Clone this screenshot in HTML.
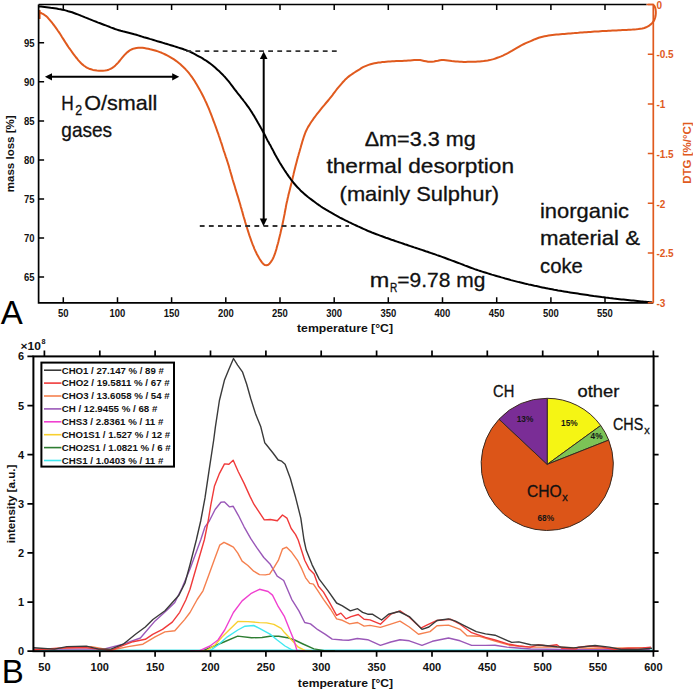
<!DOCTYPE html>
<html><head><meta charset="utf-8"><style>
html,body{margin:0;padding:0;background:#fff;}
body{width:693px;height:691px;overflow:hidden;font-family:"Liberation Sans",sans-serif;}
svg{display:block;} svg text{font-family:"Liberation Sans",sans-serif;}
</style></head><body>
<svg width="693" height="691" viewBox="0 0 693 691"><path d="M39.6,12.5 L41.6,13.3 L43.3,14.1 L44.9,15.2 L46.5,16.4 L47.9,17.8 L49.2,19.3 L50.5,20.8 L51.8,22.4 L53.0,24.0 L54.3,25.6 L55.4,27.2 L56.6,28.8 L57.7,30.5 L58.9,32.1 L60.0,33.8 L61.1,35.5 L62.1,37.2 L63.2,38.9 L64.3,40.6 L65.3,42.2 L66.4,43.9 L67.5,45.6 L68.6,47.3 L69.8,48.9 L71.0,50.5 L72.1,52.2 L73.3,53.8 L74.5,55.4 L75.7,57.0 L77.0,58.5 L78.2,60.1 L79.6,61.6 L80.9,63.0 L82.4,64.4 L84.0,65.7 L85.6,66.8 L87.3,67.8 L89.1,68.7 L91.0,69.3 L92.9,69.9 L94.9,70.2 L96.9,70.5 L98.9,70.7 L100.9,70.7 L102.9,70.7 L104.9,70.5 L106.8,70.2 L108.7,69.7 L110.6,68.9 L112.3,67.9 L113.9,66.7 L115.4,65.4 L116.8,64.0 L118.2,62.6 L119.5,61.0 L120.7,59.5 L122.0,57.9 L123.3,56.4 L124.6,54.9 L126.0,53.5 L127.5,52.1 L129.1,50.9 L130.7,49.8 L132.5,49.0 L134.4,48.4 L136.4,48.0 L138.4,47.8 L140.4,47.8 L142.4,47.8 L144.3,48.1 L146.3,48.4 L148.3,48.8 L150.2,49.3 L152.2,49.7 L154.1,50.2 L156.0,50.8 L157.9,51.4 L159.8,52.1 L161.7,52.8 L163.5,53.6 L165.3,54.5 L167.1,55.4 L168.9,56.3 L170.6,57.3 L172.3,58.3 L174.0,59.4 L175.7,60.6 L177.3,61.8 L178.8,63.0 L180.4,64.3 L181.9,65.7 L183.3,67.0 L184.8,68.4 L186.1,69.9 L187.5,71.4 L188.8,72.9 L190.0,74.5 L191.2,76.1 L192.4,77.7 L193.5,79.4 L194.6,81.0 L195.6,82.7 L196.7,84.5 L197.7,86.2 L198.7,87.9 L199.7,89.7 L200.6,91.4 L201.6,93.2 L202.5,95.0 L203.4,96.8 L204.3,98.6 L205.1,100.4 L206.0,102.2 L206.8,104.0 L207.6,105.9 L208.4,107.7 L209.2,109.5 L209.9,111.4 L210.7,113.3 L211.4,115.1 L212.1,117.0 L212.8,118.9 L213.5,120.8 L214.2,122.6 L214.9,124.5 L215.6,126.4 L216.3,128.3 L216.9,130.2 L217.6,132.1 L218.3,133.9 L218.9,135.8 L219.6,137.7 L220.2,139.6 L220.8,141.5 L221.5,143.4 L222.1,145.3 L222.7,147.3 L223.3,149.2 L223.9,151.1 L224.6,153.0 L225.2,154.9 L225.8,156.8 L226.5,158.7 L227.1,160.6 L227.7,162.5 L228.3,164.4 L228.9,166.3 L229.4,168.2 L230.0,170.2 L230.5,172.1 L231.1,174.0 L231.6,175.9 L232.2,177.9 L232.7,179.8 L233.3,181.7 L233.9,183.6 L234.5,185.5 L235.1,187.5 L235.6,189.4 L236.2,191.3 L236.8,193.2 L237.4,195.1 L238.0,197.0 L238.6,199.0 L239.1,200.9 L239.7,202.8 L240.3,204.7 L240.8,206.7 L241.4,208.6 L241.9,210.5 L242.5,212.4 L243.0,214.4 L243.5,216.3 L244.1,218.2 L244.7,220.1 L245.2,222.1 L245.8,224.0 L246.4,225.9 L247.0,227.8 L247.6,229.7 L248.2,231.6 L248.8,233.5 L249.4,235.4 L250.1,237.3 L250.7,239.2 L251.4,241.1 L252.1,243.0 L252.8,244.9 L253.6,246.7 L254.3,248.6 L255.1,250.4 L256.0,252.2 L256.8,254.0 L257.8,255.8 L258.8,257.6 L259.8,259.3 L260.9,260.9 L262.1,262.6 L263.4,264.0 L264.9,265.1 L266.6,265.3 L268.3,264.7 L269.7,263.5 L270.9,261.9 L272.0,260.2 L273.0,258.5 L273.8,256.6 L274.5,254.8 L275.2,252.9 L275.8,251.0 L276.4,249.1 L276.9,247.1 L277.4,245.2 L278.0,243.3 L278.5,241.3 L278.9,239.4 L279.4,237.4 L279.9,235.5 L280.4,233.5 L280.8,231.6 L281.3,229.6 L281.7,227.7 L282.2,225.7 L282.6,223.8 L283.0,221.8 L283.4,219.9 L283.8,217.9 L284.2,215.9 L284.6,214.0 L284.9,212.0 L285.3,210.0 L285.7,208.0 L286.0,206.1 L286.4,204.1 L286.8,202.2 L287.3,200.2 L287.7,198.2 L288.2,196.3 L288.6,194.3 L289.1,192.4 L289.6,190.5 L290.1,188.5 L290.6,186.6 L291.1,184.6 L291.6,182.7 L292.0,180.7 L292.5,178.8 L292.9,176.8 L293.4,174.9 L293.8,172.9 L294.3,171.0 L294.8,169.0 L295.3,167.1 L295.8,165.1 L296.3,163.2 L296.8,161.3 L297.3,159.3 L297.8,157.4 L298.4,155.5 L298.9,153.5 L299.5,151.6 L300.0,149.7 L300.6,147.8 L301.1,145.8 L301.7,143.9 L302.2,142.0 L302.8,140.1 L303.4,138.2 L304.0,136.3 L304.7,134.4 L305.4,132.5 L306.2,130.7 L307.1,128.9 L308.0,127.1 L309.1,125.4 L310.1,123.7 L311.2,122.0 L312.4,120.4 L313.5,118.7 L314.7,117.1 L315.9,115.5 L317.1,113.9 L318.4,112.3 L319.6,110.8 L320.9,109.2 L322.1,107.6 L323.4,106.1 L324.7,104.6 L326.0,103.0 L327.3,101.5 L328.6,100.0 L329.8,98.4 L331.1,96.8 L332.3,95.3 L333.5,93.7 L334.7,92.1 L335.9,90.5 L337.1,88.9 L338.4,87.3 L339.7,85.8 L341.0,84.3 L342.3,82.8 L343.7,81.3 L345.0,79.8 L346.5,78.4 L348.0,77.1 L349.5,75.9 L351.2,74.7 L352.8,73.6 L354.5,72.5 L356.2,71.4 L357.9,70.3 L359.6,69.3 L361.3,68.2 L363.0,67.2 L364.8,66.4 L366.7,65.6 L368.5,64.9 L370.5,64.3 L372.4,63.7 L374.3,63.3 L376.3,62.9 L378.3,62.6 L380.3,62.4 L382.3,62.1 L384.2,61.9 L386.2,61.7 L388.2,61.5 L390.2,61.4 L392.2,61.3 L394.2,61.2 L396.2,61.1 L398.2,61.1 L400.2,61.0 L402.2,60.9 L404.2,60.8 L406.2,60.7 L408.2,60.5 L410.2,60.4 L412.2,60.2 L414.2,60.0 L416.2,59.9 L418.2,59.9 L420.2,60.1 L422.2,60.5 L424.1,60.9 L426.1,61.3 L428.1,61.7 L430.0,61.8 L432.0,61.8 L434.0,61.5 L436.0,61.1 L437.9,60.7 L439.9,60.2 L441.8,60.0 L443.8,60.0 L445.8,60.2 L447.8,60.5 L449.8,60.8 L451.7,61.1 L453.7,61.3 L455.7,61.5 L457.7,61.6 L459.7,61.7 L461.7,61.8 L463.7,61.9 L465.7,61.9 L467.7,61.8 L469.7,61.8 L471.7,61.8 L473.7,61.7 L475.7,61.7 L477.7,61.6 L479.7,61.5 L481.7,61.3 L483.7,61.1 L485.7,60.8 L487.7,60.5 L489.7,60.1 L491.6,59.6 L493.5,59.1 L495.4,58.5 L497.3,57.8 L499.2,57.1 L501.1,56.4 L502.9,55.6 L504.7,54.7 L506.5,53.8 L508.3,52.9 L510.0,51.9 L511.8,50.9 L513.5,49.9 L515.2,48.9 L516.9,47.9 L518.7,46.8 L520.4,45.8 L522.2,44.9 L524.0,44.0 L525.8,43.2 L527.6,42.4 L529.5,41.6 L531.3,40.8 L533.1,40.0 L535.0,39.2 L536.9,38.5 L538.7,37.8 L540.6,37.2 L542.6,36.7 L544.5,36.3 L546.5,35.9 L548.5,35.6 L550.5,35.3 L552.4,35.0 L554.4,34.8 L556.4,34.6 L558.4,34.4 L560.4,34.2 L562.4,34.0 L564.4,33.9 L566.4,33.7 L568.4,33.5 L570.4,33.4 L572.4,33.2 L574.4,33.1 L576.4,32.9 L578.4,32.8 L580.4,32.6 L582.4,32.5 L584.4,32.3 L586.4,32.2 L588.4,32.0 L590.4,31.9 L592.4,31.7 L594.4,31.6 L596.4,31.5 L598.4,31.4 L600.4,31.2 L602.4,31.1 L604.4,31.0 L606.4,30.9 L608.4,30.8 L610.4,30.7 L612.4,30.6 L614.4,30.5 L616.4,30.4 L618.4,30.3 L620.4,30.2 L622.4,30.1 L624.4,30.0 L626.4,29.9 L628.4,29.8 L630.4,29.7 L632.4,29.6 L634.4,29.4 L636.4,29.3 L638.4,29.1 L640.4,28.8 L642.3,28.5 L644.3,28.0 L646.1,27.3 L647.9,26.4 L649.6,25.3 L651.1,24.1 L652.5,22.7 L653.7,21.1 L654.6,19.3 L655.2,17.5 L655.6,15.5 L655.8,13.5 L655.8,11.5 L655.6,9.5 L655.2,7.7 L654.5,6.2 L653.8,5.0" fill="none" stroke="#e05a1e" stroke-width="2" stroke-linejoin="round"/>
<path d="M39.5,10 L39.5,19" stroke="#e05a1e" stroke-width="2.2"/>
<path d="M38.6,6.4 L41.0,6.6 L42.7,6.8 L44.6,7.0 L46.6,7.2 L48.6,7.4 L50.6,7.7 L52.5,7.9 L54.5,8.2 L56.5,8.5 L58.5,8.9 L60.5,9.2 L62.4,9.7 L64.4,10.1 L66.3,10.6 L68.2,11.2 L70.1,11.7 L72.1,12.3 L73.9,13.0 L75.8,13.7 L77.7,14.4 L79.6,15.1 L81.4,15.9 L83.3,16.6 L85.1,17.4 L87.0,18.1 L88.9,18.9 L90.7,19.6 L92.6,20.4 L94.4,21.1 L96.3,21.8 L98.2,22.6 L100.1,23.3 L101.9,24.0 L103.8,24.7 L105.7,25.4 L107.6,26.1 L109.4,26.8 L111.3,27.6 L113.2,28.3 L115.0,29.0 L116.9,29.6 L118.8,30.2 L120.8,30.8 L122.7,31.3 L124.7,31.7 L126.6,32.2 L128.6,32.7 L130.5,33.2 L132.4,33.7 L134.3,34.3 L136.3,34.8 L138.2,35.4 L140.1,36.0 L142.0,36.6 L143.9,37.2 L145.9,37.7 L147.8,38.3 L149.7,38.9 L151.6,39.4 L153.5,40.0 L155.5,40.6 L157.4,41.2 L159.3,41.7 L161.2,42.3 L163.1,42.9 L165.1,43.5 L167.0,44.0 L168.9,44.6 L170.8,45.2 L172.7,45.8 L174.6,46.4 L176.6,47.0 L178.5,47.6 L180.4,48.2 L182.3,48.8 L184.2,49.5 L186.1,50.1 L187.9,50.9 L189.8,51.7 L191.6,52.5 L193.4,53.4 L195.2,54.3 L196.9,55.3 L198.7,56.3 L200.4,57.2 L202.2,58.2 L203.9,59.3 L205.6,60.3 L207.2,61.4 L208.9,62.6 L210.5,63.8 L212.1,65.0 L213.6,66.3 L215.1,67.6 L216.6,68.9 L218.1,70.3 L219.6,71.6 L221.0,73.0 L222.5,74.4 L223.8,75.9 L225.2,77.3 L226.5,78.8 L227.8,80.4 L229.1,81.9 L230.3,83.5 L231.5,85.1 L232.7,86.7 L233.9,88.3 L235.1,89.9 L236.4,91.5 L237.6,93.1 L238.8,94.6 L240.1,96.2 L241.3,97.8 L242.6,99.4 L243.8,101.0 L245.0,102.5 L246.2,104.2 L247.4,105.8 L248.6,107.4 L249.7,109.0 L250.8,110.7 L251.9,112.4 L252.9,114.1 L254.0,115.8 L255.0,117.6 L256.0,119.3 L257.0,121.0 L258.0,122.8 L259.0,124.5 L260.0,126.2 L261.0,128.0 L262.0,129.7 L262.9,131.5 L263.9,133.2 L264.8,135.0 L265.7,136.8 L266.6,138.6 L267.5,140.4 L268.5,142.1 L269.5,143.9 L270.5,145.6 L271.4,147.4 L272.4,149.2 L273.3,150.9 L274.2,152.7 L275.1,154.5 L276.1,156.2 L277.1,158.0 L278.1,159.7 L279.1,161.5 L280.1,163.2 L281.2,164.9 L282.2,166.6 L283.3,168.3 L284.4,170.0 L285.5,171.6 L286.6,173.3 L287.7,174.9 L288.9,176.6 L290.1,178.2 L291.2,179.8 L292.5,181.4 L293.7,183.0 L295.0,184.5 L296.3,186.0 L297.7,187.5 L299.1,188.9 L300.5,190.4 L301.9,191.7 L303.4,193.1 L304.9,194.4 L306.5,195.7 L308.0,197.0 L309.6,198.2 L311.2,199.4 L312.8,200.6 L314.4,201.8 L316.0,203.0 L317.6,204.2 L319.3,205.3 L320.9,206.5 L322.6,207.6 L324.3,208.6 L326.0,209.7 L327.7,210.7 L329.4,211.7 L331.2,212.7 L332.9,213.7 L334.6,214.7 L336.4,215.7 L338.2,216.7 L339.9,217.6 L341.7,218.5 L343.5,219.4 L345.3,220.3 L347.1,221.2 L348.9,222.1 L350.7,222.9 L352.5,223.8 L354.3,224.7 L356.1,225.5 L358.0,226.4 L359.8,227.2 L361.6,228.0 L363.4,228.8 L365.3,229.6 L367.1,230.5 L368.9,231.3 L370.8,232.0 L372.6,232.8 L374.5,233.5 L376.4,234.2 L378.3,234.9 L380.1,235.6 L382.0,236.3 L383.9,237.0 L385.8,237.7 L387.7,238.3 L389.6,239.0 L391.5,239.7 L393.4,240.3 L395.2,241.0 L397.1,241.6 L399.0,242.3 L400.9,242.9 L402.8,243.5 L404.7,244.2 L406.6,244.8 L408.5,245.5 L410.4,246.1 L412.3,246.7 L414.2,247.4 L416.1,248.0 L418.0,248.6 L419.9,249.3 L421.8,249.9 L423.7,250.5 L425.6,251.2 L427.5,251.8 L429.4,252.5 L431.3,253.1 L433.2,253.8 L435.1,254.4 L437.0,255.1 L438.9,255.7 L440.8,256.4 L442.7,257.1 L444.6,257.8 L446.4,258.5 L448.3,259.2 L450.2,259.9 L452.1,260.6 L454.0,261.3 L455.8,262.0 L457.7,262.7 L459.6,263.4 L461.5,264.1 L463.3,264.8 L465.2,265.6 L467.1,266.3 L468.9,267.0 L470.8,267.7 L472.7,268.4 L474.6,269.1 L476.5,269.7 L478.4,270.4 L480.3,271.0 L482.2,271.6 L484.1,272.2 L486.0,272.8 L487.9,273.4 L489.8,274.0 L491.8,274.6 L493.7,275.1 L495.6,275.7 L497.5,276.3 L499.4,276.8 L501.4,277.4 L503.3,277.9 L505.2,278.5 L507.2,279.0 L509.1,279.5 L511.0,280.1 L513.0,280.6 L514.9,281.1 L516.8,281.6 L518.8,282.1 L520.7,282.5 L522.7,283.0 L524.6,283.5 L526.6,283.9 L528.5,284.4 L530.5,284.8 L532.5,285.2 L534.4,285.7 L536.4,286.1 L538.3,286.5 L540.3,287.0 L542.2,287.4 L544.2,287.8 L546.2,288.2 L548.1,288.6 L550.1,288.9 L552.1,289.3 L554.1,289.7 L556.0,290.0 L558.0,290.4 L560.0,290.7 L561.9,291.1 L563.9,291.4 L565.9,291.7 L567.9,292.1 L569.9,292.4 L571.8,292.7 L573.8,293.0 L575.8,293.3 L577.8,293.6 L579.8,293.9 L581.7,294.2 L583.7,294.5 L585.7,294.8 L587.7,295.1 L589.7,295.4 L591.7,295.7 L593.6,296.0 L595.6,296.2 L597.6,296.5 L599.6,296.8 L601.6,297.1 L603.6,297.3 L605.6,297.6 L607.5,297.8 L609.5,298.1 L611.5,298.3 L613.5,298.6 L615.5,298.8 L617.5,299.0 L619.5,299.2 L621.5,299.4 L623.5,299.6 L625.5,299.8 L627.5,300.0 L629.5,300.2 L631.4,300.4 L633.4,300.6 L635.4,300.8 L637.4,301.0 L639.4,301.2 L641.4,301.4 L643.4,301.6 L645.4,301.7 L647.4,301.9 L649.2,302.1 L650.7,302.2 L652.4,302.4" fill="none" stroke="#000" stroke-width="2" stroke-linejoin="round"/>
<path d="M186.3,51.1 H337.5" stroke="#333" stroke-width="1.9" stroke-dasharray="4.8,4.3"/>
<path d="M199.8,226 H349" stroke="#333" stroke-width="1.9" stroke-dasharray="4.8,4.3"/>
<path d="M263.7,57 V220" stroke="#000" stroke-width="2"/>
<path d="M263.7,51.4 L259.9,59 L267.5,59 Z" fill="#000"/>
<path d="M263.5,226.2 L259.8,218.6 L267.2,218.6 Z" fill="#000"/>
<path d="M50,76.8 H174" stroke="#000" stroke-width="2"/>
<path d="M44.9,76.8 L52,73.2 L52,80.4 Z" fill="#000"/>
<path d="M179.2,76.8 L172.2,73.2 L172.2,80.4 Z" fill="#000"/>
<path d="M38.6,4.5 V302.8 H653.3" fill="none" stroke="#000" stroke-width="1.7"/>
<path d="M38.6,4.5 H646.6" fill="none" stroke="#000" stroke-width="1.7"/>
<path d="M646.6,4.5 H653.3 V302.8" fill="none" stroke="#e05a1e" stroke-width="1.7"/>
<path d="M63.3,302.8 v-5.5 M63.3,4.5 v5.5 M117.5,302.8 v-5.5 M117.5,4.5 v5.5 M171.6,302.8 v-5.5 M171.6,4.5 v5.5 M225.8,302.8 v-5.5 M225.8,4.5 v5.5 M280,302.8 v-5.5 M280,4.5 v5.5 M334.2,302.8 v-5.5 M334.2,4.5 v5.5 M388.3,302.8 v-5.5 M388.3,4.5 v5.5 M442.5,302.8 v-5.5 M442.5,4.5 v5.5 M496.7,302.8 v-5.5 M496.7,4.5 v5.5 M550.9,302.8 v-5.5 M550.9,4.5 v5.5 M605,302.8 v-5.5 M605,4.5 v5.5 M38.6,277 h5.5 M38.6,237.9 h5.5 M38.6,198.9 h5.5 M38.6,159.9 h5.5 M38.6,120.9 h5.5 M38.6,81.8 h5.5 M38.6,42.8 h5.5 " stroke="#000" stroke-width="1.5"/>
<path d="M653.3,4.5 h-5.5 M653.3,54.2 h-5.5 M653.3,103.9 h-5.5 M653.3,153.6 h-5.5 M653.3,203.3 h-5.5 M653.3,253 h-5.5 M653.3,302.7 h-5.5 " stroke="#e05a1e" stroke-width="1.5"/>
<g font-family="Liberation Sans, sans-serif" font-weight="bold" font-size="10.3" fill="#111" text-anchor="middle"><text x="63.3" y="317.1" textLength="10.6" lengthAdjust="spacingAndGlyphs">50</text><text x="117.5" y="317.1" textLength="15.8" lengthAdjust="spacingAndGlyphs">100</text><text x="171.6" y="317.1" textLength="15.8" lengthAdjust="spacingAndGlyphs">150</text><text x="225.8" y="317.1" textLength="15.8" lengthAdjust="spacingAndGlyphs">200</text><text x="280" y="317.1" textLength="15.8" lengthAdjust="spacingAndGlyphs">250</text><text x="334.2" y="317.1" textLength="15.8" lengthAdjust="spacingAndGlyphs">300</text><text x="388.3" y="317.1" textLength="15.8" lengthAdjust="spacingAndGlyphs">350</text><text x="442.5" y="317.1" textLength="15.8" lengthAdjust="spacingAndGlyphs">400</text><text x="496.7" y="317.1" textLength="15.8" lengthAdjust="spacingAndGlyphs">450</text><text x="550.9" y="317.1" textLength="15.8" lengthAdjust="spacingAndGlyphs">500</text><text x="605" y="317.1" textLength="15.8" lengthAdjust="spacingAndGlyphs">550</text></g>
<g font-family="Liberation Sans, sans-serif" font-weight="bold" font-size="10.3" fill="#111" text-anchor="end"><text x="34.6" y="280.7" textLength="10.6" lengthAdjust="spacingAndGlyphs">65</text><text x="34.6" y="241.6" textLength="10.6" lengthAdjust="spacingAndGlyphs">70</text><text x="34.6" y="202.6" textLength="10.6" lengthAdjust="spacingAndGlyphs">75</text><text x="34.6" y="163.6" textLength="10.6" lengthAdjust="spacingAndGlyphs">80</text><text x="34.6" y="124.6" textLength="10.6" lengthAdjust="spacingAndGlyphs">85</text><text x="34.6" y="85.5" textLength="10.6" lengthAdjust="spacingAndGlyphs">90</text><text x="34.6" y="46.5" textLength="10.6" lengthAdjust="spacingAndGlyphs">95</text></g>
<g font-family="Liberation Sans, sans-serif" font-weight="bold" font-size="10" fill="#e05a1e" text-anchor="start"><text x="656.4" y="8.7">0</text><text x="656.4" y="58.4">-0.5</text><text x="656.4" y="108.1">-1</text><text x="656.4" y="157.8">-1.5</text><text x="656.4" y="207.5">-2</text><text x="656.4" y="257.2">-2.5</text><text x="656.4" y="306.9">-3</text></g>
<text x="345" y="331.5" font-family="Liberation Sans, sans-serif" font-weight="bold" font-size="11.7" fill="#111" text-anchor="middle" textLength="96" lengthAdjust="spacingAndGlyphs">temperature [°C]</text>
<text transform="translate(14,153.8) rotate(-90)" font-family="Liberation Sans, sans-serif" font-weight="bold" font-size="11.5" fill="#111" text-anchor="middle">mass loss [%]</text>
<text transform="translate(690.5,153) rotate(-90)" font-family="Liberation Sans, sans-serif" font-weight="bold" font-size="11.5" fill="#e05a1e" text-anchor="middle">DTG [%/°C]</text>
<text x="61.3" y="110.4" font-family="Liberation Sans, sans-serif" font-size="20.7" fill="#111" stroke="#111" stroke-width="0.3" textLength="12.5" lengthAdjust="spacingAndGlyphs">H</text>
<text x="75.2" y="115.4" font-family="Liberation Sans, sans-serif" font-size="14.5" fill="#111" stroke="#111" stroke-width="0.3" textLength="6.9" lengthAdjust="spacingAndGlyphs">2</text>
<text x="84.2" y="110.4" font-family="Liberation Sans, sans-serif" font-size="20.7" fill="#111" stroke="#111" stroke-width="0.3" textLength="73.2" lengthAdjust="spacingAndGlyphs">O/small</text>
<text x="61.3" y="137.4" font-family="Liberation Sans, sans-serif" font-size="20.7" fill="#111" stroke="#111" stroke-width="0.3" textLength="50.8" lengthAdjust="spacingAndGlyphs">gases</text>
<text x="364.7" y="146.4" font-family="Liberation Sans, sans-serif" font-size="20.7" fill="#111" stroke="#111" stroke-width="0.3" textLength="111" lengthAdjust="spacingAndGlyphs">Δm=3.3 mg</text>
<text x="326.4" y="173.3" font-family="Liberation Sans, sans-serif" font-size="20.7" fill="#111" stroke="#111" stroke-width="0.3" textLength="187.6" lengthAdjust="spacingAndGlyphs">thermal desorption</text>
<text x="339.6" y="200.8" font-family="Liberation Sans, sans-serif" font-size="20.7" fill="#111" stroke="#111" stroke-width="0.3" textLength="159.4" lengthAdjust="spacingAndGlyphs">(mainly Sulphur)</text>
<text x="369.7" y="287.3" font-family="Liberation Sans, sans-serif" font-size="20.7" fill="#111" stroke="#111" stroke-width="0.3" textLength="19.5" lengthAdjust="spacingAndGlyphs">m</text>
<text x="389.9" y="292.4" font-family="Liberation Sans, sans-serif" font-size="12.5" fill="#111" stroke="#111" stroke-width="0.3" textLength="7.3" lengthAdjust="spacingAndGlyphs">R</text>
<text x="397.3" y="287.3" font-family="Liberation Sans, sans-serif" font-size="20.7" fill="#111" stroke="#111" stroke-width="0.3" textLength="88" lengthAdjust="spacingAndGlyphs">=9.78 mg</text>
<text x="540" y="217.5" font-family="Liberation Sans, sans-serif" font-size="20.7" fill="#111" stroke="#111" stroke-width="0.3" textLength="89" lengthAdjust="spacingAndGlyphs">inorganic</text>
<text x="540" y="245.2" font-family="Liberation Sans, sans-serif" font-size="20.7" fill="#111" stroke="#111" stroke-width="0.3" textLength="100" lengthAdjust="spacingAndGlyphs">material &amp;</text>
<text x="540" y="272.9" font-family="Liberation Sans, sans-serif" font-size="20.7" fill="#111" stroke="#111" stroke-width="0.3" textLength="42.8" lengthAdjust="spacingAndGlyphs">coke</text>
<text x="0.8" y="323.8" font-family="Liberation Sans, sans-serif" font-size="33" fill="#000">A</text>
<path d="M33.4,650.4 H653.6" stroke="#40e0e8" stroke-width="1.6"/>
<path d="M190,651 L203.1,650.6 L213,646.5 L223.9,642 L237.7,636.1 L251.6,637.8 L262,637.5 L270,636.2 L278.7,636.2 L287.4,637.7 L294.6,640 L303,644 L313.9,648.9 L324.3,650.6 L335,651" fill="none" stroke="#2e7d32" stroke-width="1.4" stroke-linejoin="round"/>
<path d="M198,651 L210,650.6 L218,645 L227.4,636.8 L237.8,630 L245,626.2 L253.7,625.5 L259.5,628.4 L270,634.1 L277.2,640 L285,646 L293.2,650.6 L300,651" fill="none" stroke="#40e8f0" stroke-width="1.4" stroke-linejoin="round"/>
<path d="M195,651 L206.6,650.6 L215,645 L222,637 L229.1,630 L237.8,621.5 L247.9,621.6 L259.5,622.6 L266.7,622.9 L273.9,624.4 L281.2,628.4 L284.5,632.6 L291.7,640 L298,647 L305.3,650.6 L312,651" fill="none" stroke="#f8d030" stroke-width="1.4" stroke-linejoin="round"/>
<path d="M190,651 L199.7,650.6 L210,646 L218,640 L224.7,630 L233.4,612.5 L242.1,600.9 L250.8,593.7 L259.5,589.3 L268.1,591.5 L272.5,595.1 L278.3,606.7 L284.5,616.7 L290.3,631.2 L293.9,640 L297,650.6 L305,651" fill="none" stroke="#f040d0" stroke-width="1.4" stroke-linejoin="round"/>
<path d="M33.7,649.1 L103.6,649.1 L123.2,644.2 L140.4,638 L155.1,620.9 L167.4,609.8 L174.8,602.5 L182,588 L190,569.1 L200.7,540 L205,526.8 L209.3,521 L215.1,509.5 L220.9,502.2 L224.5,501.9 L229.6,506.9 L233.2,506.3 L238.3,515.3 L244.1,526.8 L250.8,538.7 L256.6,547.4 L263.8,557.5 L270,563.9 L277.2,576.2 L283.7,580.5 L291.7,599.3 L298.9,610.9 L304.7,622.5 L310.5,623.9 L317.8,629.7 L325,634.1 L332.2,639.1 L342.4,640 L348.6,640.3 L357.3,638.5 L367.7,639.7 L380.4,645.4 L390.8,642 L400,639.7 L409.3,640.8 L422,645.4 L432.4,641.3 L448.5,638 L460.1,640.8 L471.6,645.4 L485.5,645.4 L495,645.2 L506.9,647.1 L530.7,649 L566.4,649.5 L602.1,649 L649.8,649.5" fill="none" stroke="#9a58b8" stroke-width="1.4" stroke-linejoin="round"/>
<path d="M33.7,649.8 L91.3,646.6 L111,650.3 L128.1,646.6 L142.9,644.2 L155.1,636.8 L164.9,631.9 L174.8,630.7 L184.6,619.6 L190,612.5 L197.2,599.5 L203,590.8 L208.8,574.9 L214.6,558.9 L219.7,545.2 L224,542.3 L228.4,544.5 L233.4,547.1 L237.8,553.2 L242.1,561.1 L247.9,565.5 L253.7,571.2 L259.5,574.6 L265.3,574.9 L269.6,574.1 L273.9,567.6 L278.3,560.4 L282.5,549 L286.6,547.2 L291.7,552.3 L297.5,560.3 L301.8,568.9 L305.5,577.6 L309.8,583.4 L313.4,584.1 L317.8,590.7 L323.5,599.3 L330.8,609.5 L336.6,618.9 L342.4,620.3 L349.6,623.9 L357.6,622.5 L364.1,626.1 L370,625.4 L380.4,627.4 L390.8,624.2 L400,621.2 L409.3,627 L418.5,634.3 L430,631.6 L437,625.8 L448.5,625.1 L460.1,629.3 L467,635.7 L478.6,636.2 L495,641.2 L509.3,645.2 L530.7,647.1 L556.9,647.1 L590.2,648.3 L628.3,647.9 L649.8,647.6" fill="none" stroke="#f5804f" stroke-width="1.4" stroke-linejoin="round"/>
<path d="M33.7,649.8 L66.8,647.8 L86.4,647.8 L98.7,649.1 L111,650.3 L123.2,645.4 L133,641.7 L145.3,639.3 L152.7,634.3 L162.5,629.4 L172.3,622.1 L179.7,612.3 L185.8,600 L190,589.3 L197,565 L204.3,540 L207.9,522.5 L210.8,505.1 L214.4,486.3 L219.5,473.3 L224.5,463.9 L228.9,464.3 L233.2,460.3 L238.3,471.8 L244.1,483.4 L250,496.4 L253.9,504.2 L264.3,519.9 L270.4,519.5 L277.3,520.7 L282.5,515 L286.9,518.1 L291.2,528.5 L295.6,534.6 L298.2,540 L304.7,560.3 L309.1,568.9 L314.1,574 L318.5,586.3 L323.5,592.1 L329.3,602.2 L336.6,615.3 L340.9,613.1 L346,618.9 L351,616.7 L358.3,614.5 L364.1,619.3 L370,619.9 L380.4,624.2 L390.8,614.2 L400,610.8 L409.3,617.3 L420.8,628.1 L427.8,624.6 L437,620.5 L450.9,619.3 L460.1,624.2 L471.6,632.7 L485.5,637.3 L495,640 L509.3,644.3 L518.8,646 L530.7,647.1 L537.9,644.8 L547.4,646 L556.9,644.8 L561.7,648.3 L576,649 L578.3,647.1 L590.2,646 L602.1,647.1 L614,649.5 L628.3,648.3 L642.6,647.9 L651,647.1" fill="none" stroke="#f03a3a" stroke-width="1.4" stroke-linejoin="round"/>
<path d="M33.7,647.8 L54.5,649.1 L66.8,646.6 L86.4,646.1 L98.7,649.1 L111,649.1 L123.2,644.2 L135.5,634.3 L145.3,627 L152.9,619.5 L165,610.8 L178.9,595.2 L185,583 L190,564.7 L196.3,540 L200.7,521 L205,497.9 L209.3,468.9 L213.7,440 L215.4,426.8 L219.4,400.5 L224.4,380.3 L228.5,370.2 L233.5,358.5 L237.6,365.2 L242.6,372.2 L246.7,384.3 L250.7,398.5 L255.8,414.6 L260.8,426.8 L264.8,442.9 L266,444.3 L273,453 L278.2,460 L281.7,461.2 L285.1,464.3 L290.3,478.2 L295.6,497.3 L300.8,518.1 L304,540 L306.2,550.1 L312,564.6 L319.2,579.1 L327.9,590.7 L336.6,603 L342.4,605.8 L350.3,610.9 L357.6,608.7 L362.6,612.4 L367.7,614.2 L372.3,614.2 L381.6,620 L388.5,614.2 L398.9,611.5 L409.3,616.6 L422,629.3 L428.9,627 L437,620.5 L448.5,618.9 L455.5,621.2 L464.7,625.8 L476.3,631.6 L485.5,633.9 L495,635.2 L511.7,642.4 L518.8,641.9 L530.7,644.8 L542.6,645.2 L556.9,646.7 L573.6,647.9 L595,645.5 L609.3,647.1 L621.2,649.5 L637.9,649.5 L652.1,648.3" fill="none" stroke="#3a3a3a" stroke-width="1.4" stroke-linejoin="round"/>
<rect x="33.4" y="356.4" width="620.2" height="294.8" fill="none" stroke="#000" stroke-width="2"/>
<path d="M44.4,651.2 v5.5 M44.4,356.4 v-5.8 M99.8,651.2 v5.5 M99.8,356.4 v-5.8 M155.1,651.2 v5.5 M155.1,356.4 v-5.8 M210.5,651.2 v5.5 M210.5,356.4 v-5.8 M265.9,651.2 v5.5 M265.9,356.4 v-5.8 M321.2,651.2 v5.5 M321.2,356.4 v-5.8 M376.6,651.2 v5.5 M376.6,356.4 v-5.8 M432,651.2 v5.5 M432,356.4 v-5.8 M487.3,651.2 v5.5 M487.3,356.4 v-5.8 M542.7,651.2 v5.5 M542.7,356.4 v-5.8 M598,651.2 v5.5 M598,356.4 v-5.8 M653.4,651.2 v5.5 M653.4,356.4 v-5.8 M33.4,651.2 h-6 M653.6,651.2 h5 M33.4,602.1 h-6 M653.6,602.1 h5 M33.4,552.9 h-6 M653.6,552.9 h5 M33.4,503.8 h-6 M653.6,503.8 h5 M33.4,454.7 h-6 M653.6,454.7 h5 M33.4,405.6 h-6 M653.6,405.6 h5 M33.4,356.4 h-6 M653.6,356.4 h5 " stroke="#000" stroke-width="1.7"/>
<g font-family="Liberation Sans, sans-serif" font-weight="bold" font-size="11" fill="#111" text-anchor="middle"><text x="44.4" y="671.4">50</text><text x="99.8" y="671.4">100</text><text x="155.1" y="671.4">150</text><text x="210.5" y="671.4">200</text><text x="265.9" y="671.4">250</text><text x="321.2" y="671.4">300</text><text x="376.6" y="671.4">350</text><text x="432" y="671.4">400</text><text x="487.3" y="671.4">450</text><text x="542.7" y="671.4">500</text><text x="598" y="671.4">550</text><text x="653.4" y="671.4">600</text></g>
<g font-family="Liberation Sans, sans-serif" font-weight="bold" font-size="11" fill="#111" text-anchor="end"><text x="24.2" y="655.2">0</text><text x="24.2" y="606.1">1</text><text x="24.2" y="556.9">2</text><text x="24.2" y="507.8">3</text><text x="24.2" y="458.7">4</text><text x="24.2" y="409.6">5</text><text x="24.2" y="360.4">6</text></g>
<text x="20.5" y="350" font-family="Liberation Sans, sans-serif" font-weight="bold" font-size="11.2" fill="#111" textLength="20.4" lengthAdjust="spacingAndGlyphs">×10</text>
<text x="41.6" y="344.2" font-family="Liberation Sans, sans-serif" font-weight="bold" font-size="7.2" fill="#111">8</text>
<text x="345.5" y="687.3" font-family="Liberation Sans, sans-serif" font-weight="bold" font-size="11.7" fill="#111" text-anchor="middle" textLength="95.3" lengthAdjust="spacingAndGlyphs">temperature [°C]</text>
<text transform="translate(14.7,504) rotate(-90)" font-family="Liberation Sans, sans-serif" font-weight="bold" font-size="11.6" fill="#111" text-anchor="middle">intensity [a.u.]</text>
<text x="1.8" y="683.2" font-family="Liberation Sans, sans-serif" font-size="33" fill="#000">B</text>
<rect x="41.4" y="362.6" width="132.6" height="104" fill="#fff" stroke="#000" stroke-width="2"/>
<g font-family="Liberation Sans, sans-serif" font-weight="bold" font-size="9.7" fill="#111"><path d="M44,370.2 H61.4" stroke="#3a3a3a" stroke-width="1.6"/><text x="61.7" y="373.5" textLength="102.1" lengthAdjust="spacingAndGlyphs">CHO1 / 27.147 % / 89 #</text><path d="M44,383.1 H61.4" stroke="#f03a3a" stroke-width="1.6"/><text x="61.7" y="386.4" textLength="108" lengthAdjust="spacingAndGlyphs">CHO2 / 19.5811 % / 67 #</text><path d="M44,396 H61.4" stroke="#f5804f" stroke-width="1.6"/><text x="61.7" y="399.3" textLength="108" lengthAdjust="spacingAndGlyphs">CHO3 / 13.6058 % / 54 #</text><path d="M44,408.9 H61.4" stroke="#9a58b8" stroke-width="1.6"/><text x="61.7" y="412.2" textLength="95.7" lengthAdjust="spacingAndGlyphs">CH / 12.9455 % / 68 #</text><path d="M44,421.8 H61.4" stroke="#f040d0" stroke-width="1.6"/><text x="61.7" y="425.1" textLength="101.6" lengthAdjust="spacingAndGlyphs">CHS3 / 2.8361 % / 11 #</text><path d="M44,434.7 H61.4" stroke="#f8d030" stroke-width="1.6"/><text x="61.7" y="438" textLength="108.4" lengthAdjust="spacingAndGlyphs">CHO1S1 / 1.527 % / 12 #</text><path d="M44,447.6 H61.4" stroke="#2e7d32" stroke-width="1.6"/><text x="61.7" y="450.9" textLength="108.9" lengthAdjust="spacingAndGlyphs">CHO2S1 / 1.0821 % / 6 #</text><path d="M44,460.5 H61.4" stroke="#40e8f0" stroke-width="1.6"/><text x="61.7" y="463.8" textLength="101.6" lengthAdjust="spacingAndGlyphs">CHS1 / 1.0403 % / 11 #</text></g>
<path d="M547.2,464.4 L547.2,398.3 A66.1,66.1 0 0 1 600.7,425.5 Z" fill="#f5f514" stroke="#3a2a20" stroke-width="1"/>
<path d="M547.2,464.4 L600.7,425.5 A66.1,66.1 0 0 1 608.7,440.1 Z" fill="#7cc356" stroke="#3a2a20" stroke-width="1"/>
<path d="M547.2,464.4 L608.7,440.1 A66.1,66.1 0 1 1 499,419.2 Z" fill="#dc5518" stroke="#3a2a20" stroke-width="1"/>
<path d="M547.2,464.4 L499,419.2 A66.1,66.1 0 0 1 547.2,398.3 Z" fill="#7a2d96" stroke="#3a2a20" stroke-width="1"/>
<g font-family="Liberation Sans, sans-serif" font-weight="bold" font-size="8.3" fill="#151515" text-anchor="middle"><text x="525" y="422">13%</text><text x="569.4" y="425.8">15%</text><text x="596.6" y="439.4">4%</text><text x="545.8" y="520.9">68%</text></g>
<text x="493.1" y="397.2" font-family="Liberation Sans, sans-serif" font-size="16.3" fill="#111" stroke="#111" stroke-width="0.3" textLength="21.2" lengthAdjust="spacingAndGlyphs">CH</text>
<text x="577.5" y="397.2" font-family="Liberation Sans, sans-serif" font-size="16.3" fill="#111" stroke="#111" stroke-width="0.3" textLength="41.8" lengthAdjust="spacingAndGlyphs">other</text>
<text x="613" y="429.9" font-family="Liberation Sans, sans-serif" font-size="16.3" fill="#111" stroke="#111" stroke-width="0.3" textLength="30.3" lengthAdjust="spacingAndGlyphs">CHS</text>
<text x="644.3" y="434.2" font-family="Liberation Sans, sans-serif" font-size="11" fill="#111" stroke="#111" stroke-width="0.3">x</text>
<text x="526.9" y="496.6" font-family="Liberation Sans, sans-serif" font-size="16.3" fill="#111" stroke="#111" stroke-width="0.3" textLength="34.7" lengthAdjust="spacingAndGlyphs">CHO</text>
<text x="562.3" y="501" font-family="Liberation Sans, sans-serif" font-size="11" fill="#111" stroke="#111" stroke-width="0.3">x</text></svg>
</body></html>
